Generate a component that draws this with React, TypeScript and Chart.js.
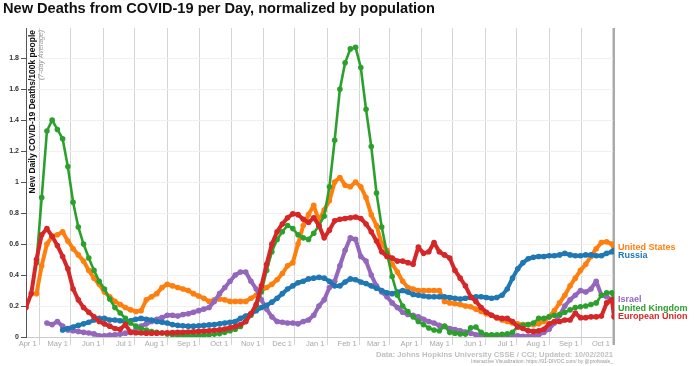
import React, { useEffect, useRef } from "react";
import { Chart, registerables } from "chart.js";

Chart.register(...registerables);

const FONT = '"Liberation Sans", Arial, Helvetica, sans-serif';

// Day offsets are relative to 2020-04-01. First sample 2020-03-19, last 2021-10-02.
const START_DAY = -13;
const STEP_DAYS = 5;
const LAST_GRID_DAY = 547;
const END_DAY = 549;

const tickDays = [0, 30, 61, 91, 122, 153, 183, 214, 244, 275, 306, 334, 365, 395, 426, 456, 487, 518, 548];
const tickLabels = [
  "Apr 1", "May 1", "Jun 1", "Jul 1", "Aug 1", "Sep 1", "Oct 1", "Nov 1", "Dec 1",
  "Jan 1", "Feb 1", "Mar 1", "Apr 1", "May 1", "Jun 1", "Jul 1", "Aug 1", "Sep 1", "Oct 1",
];
const yTicks = [0, 0.2, 0.4, 0.6, 0.8, 1, 1.2, 1.4, 1.6, 1.8];

const days: number[] = [];
for (let d = START_DAY; d <= LAST_GRID_DAY; d += STEP_DAYS) days.push(d);
days.push(END_DAY);

const unitedStates = [
  null, null, 0.28, 0.46, 0.6, 0.65, 0.66, 0.68, 0.62, 0.57,
  0.53, 0.49, 0.43, 0.38, 0.34, 0.29, 0.26, 0.23, 0.21, 0.19,
  0.175, 0.165, 0.17, 0.24, 0.26, 0.28, 0.32, 0.34, 0.33, 0.32,
  0.31, 0.3, 0.28, 0.265, 0.25, 0.23, 0.24, 0.245, 0.24, 0.23,
  0.23, 0.23, 0.23, 0.25, 0.27, 0.3, 0.32, 0.34, 0.37, 0.41,
  0.46, 0.48, 0.6, 0.72, 0.79, 0.85, 0.75, 0.82, 0.88, 1.0,
  1.03, 0.98, 0.97, 1.0, 0.97, 0.9, 0.79, 0.72, 0.6, 0.56,
  0.47, 0.42, 0.36, 0.32, 0.31, 0.3, 0.3, 0.3, 0.3, 0.3,
  0.23, 0.22, 0.215, 0.21, 0.2, 0.195, 0.18, 0.165, 0.15, 0.14,
  0.125, 0.11, 0.1, 0.09, 0.085, 0.08, 0.08, 0.08, 0.085, 0.1,
  0.13, 0.17, 0.22, 0.27, 0.33, 0.38, 0.43, 0.47, 0.52, 0.57,
  0.61, 0.615, 0.6,
  0.58,
];

const russia = [
  null, null, null, null, null, null, null, 0.045, 0.055, 0.065,
  0.075, 0.085, 0.095, 0.11, 0.12, 0.12, 0.11, 0.11, 0.105, 0.1,
  0.105, 0.115, 0.12, 0.115, 0.11, 0.1, 0.095, 0.09, 0.08, 0.075,
  0.072, 0.07, 0.07, 0.072, 0.075, 0.078, 0.08, 0.085, 0.09, 0.095,
  0.1, 0.12, 0.135, 0.15, 0.17, 0.19, 0.205, 0.225, 0.25, 0.28,
  0.31, 0.33, 0.35, 0.36, 0.375, 0.38, 0.385, 0.38, 0.36, 0.33,
  0.33, 0.355, 0.375, 0.37, 0.355, 0.345, 0.33, 0.315, 0.3, 0.285,
  0.28, 0.29, 0.3, 0.29, 0.275, 0.27, 0.265, 0.26, 0.26, 0.26,
  0.26, 0.255, 0.25, 0.245, 0.25, 0.255, 0.26, 0.26, 0.255, 0.25,
  0.255, 0.27, 0.31, 0.38, 0.44, 0.48, 0.505, 0.515, 0.52, 0.52,
  0.525, 0.525, 0.53, 0.54, 0.53, 0.525, 0.525, 0.53, 0.53, 0.525,
  0.525, 0.54, 0.55,
  0.56,
];

const israel = [
  null, null, null, null, 0.09, 0.08, 0.1, 0.07, 0.045, 0.04,
  0.036, 0.03, 0.026, 0.02, 0.008, 0.008, 0.012, 0.015, 0.018, 0.025,
  0.03, 0.045, 0.07, 0.085, 0.1, 0.115, 0.125, 0.14, 0.14, 0.135,
  0.145, 0.15, 0.16, 0.17, 0.18, 0.19, 0.23, 0.28, 0.32, 0.36,
  0.4, 0.42, 0.42, 0.36, 0.31, 0.24, 0.18, 0.13, 0.1, 0.095,
  0.09, 0.09, 0.085, 0.1, 0.11, 0.14, 0.2, 0.24, 0.32, 0.36,
  0.46, 0.56, 0.64, 0.63, 0.52, 0.49, 0.4, 0.33, 0.29, 0.26,
  0.22, 0.19, 0.16, 0.145, 0.14, 0.13, 0.115, 0.1, 0.09, 0.075,
  0.068, 0.055, 0.048, 0.04, 0.032, 0.025, 0.015, 0.008, 0.005, 0.005,
  0.005, 0.005, 0.005, 0.008, 0.008, 0.005, 0.005, 0.008, 0.015, 0.03,
  0.05, 0.09, 0.14, 0.2, 0.24, 0.27, 0.3, 0.29, 0.31, 0.36,
  0.27, 0.26, 0.24,
  0.24,
];

const unitedKingdom = [
  null, null, 0.48, 0.9, 1.33, 1.4, 1.34, 1.28, 1.1, 0.87,
  0.71, 0.6, 0.51, 0.43, 0.36, 0.31, 0.245, 0.19, 0.155, 0.12,
  0.09, 0.07, 0.055, 0.045, 0.035, 0.03, 0.026, 0.02, 0.015, 0.012,
  0.01, 0.008, 0.008, 0.01, 0.012, 0.015, 0.018, 0.022, 0.03, 0.04,
  0.05, 0.068, 0.1, 0.14, 0.2, 0.29, 0.43, 0.55, 0.63, 0.68,
  0.72, 0.7, 0.66, 0.64, 0.63, 0.67, 0.72, 0.78, 0.97, 1.27,
  1.6, 1.77, 1.86, 1.87, 1.74, 1.47, 1.23, 0.93, 0.71, 0.54,
  0.39, 0.27, 0.2, 0.165, 0.13, 0.1, 0.08, 0.058, 0.045, 0.04,
  0.07, 0.03, 0.025, 0.02, 0.018, 0.06, 0.065, 0.03, 0.015, 0.015,
  0.015, 0.018, 0.02, 0.03, 0.07, 0.075, 0.08, 0.09, 0.12, 0.12,
  0.13, 0.14, 0.145, 0.16, 0.175, 0.19, 0.195, 0.2, 0.21, 0.22,
  0.27, 0.285, 0.285,
  0.22,
];

const europeanUnion = [
  0.19, 0.28, 0.5, 0.66, 0.7, 0.65, 0.59, 0.52, 0.44, 0.31,
  0.24, 0.19, 0.16, 0.13, 0.1, 0.085, 0.07, 0.055, 0.05, 0.08,
  0.03, 0.027, 0.026, 0.025, 0.025, 0.025, 0.026, 0.027, 0.028, 0.03,
  0.03, 0.032, 0.034, 0.036, 0.038, 0.04, 0.043, 0.046, 0.052, 0.06,
  0.068, 0.08, 0.1, 0.15, 0.21, 0.33, 0.47, 0.6, 0.68, 0.73,
  0.77, 0.795, 0.79, 0.76, 0.74, 0.77, 0.72, 0.64, 0.69, 0.75,
  0.76, 0.765, 0.77, 0.775, 0.765, 0.73, 0.68, 0.62, 0.55, 0.52,
  0.51, 0.49, 0.49, 0.48, 0.47, 0.58, 0.54, 0.55, 0.61, 0.55,
  0.53, 0.51, 0.43, 0.38, 0.33, 0.26, 0.23, 0.19, 0.16, 0.14,
  0.125, 0.12, 0.12, 0.1, 0.065, 0.055, 0.04, 0.036, 0.04, 0.05,
  0.085, 0.1, 0.1, 0.11, 0.11, 0.155, 0.125, 0.125, 0.13, 0.13,
  0.135, 0.22, 0.24,
  0.13,
];

const seriesNames = ["European Union", "United Kingdom", "Russia", "Israel", "United States"];
const seriesValues = [europeanUnion, unitedKingdom, russia, israel, unitedStates];
const seriesColors = ["#d62728", "#2ca02c", "#1f77b4", "#9467bd", "#ff7f0e"];
const seriesLineWidths = [4, 2.6, 4, 4, 4];

const titleText = "New Deaths from COVID-19 per Day, normalized by population";
const yTitle = "New Daily COVID-19 Deaths/100k people";
const ySubtitle = "(7-day Average)";
const sourceText = "Data: Johns Hopkins University CSSE / CCI; Updated: 10/02/2021";
const creditText = "Interactive Visualization: https://91-DIVOC.com/ by @profwade_";

const decorPlugin = {
  id: "decor",
  beforeDatasetsDraw(chart: any) {
    const { ctx, chartArea } = chart;
    const x = chart.scales.x.getPixelForValue(END_DAY);
    ctx.save();
    ctx.strokeStyle = "#aaaaaa";
    ctx.lineWidth = 2;
    ctx.beginPath();
    ctx.moveTo(x, chartArea.top);
    ctx.lineTo(x, chartArea.bottom + 8);
    ctx.stroke();
    ctx.restore();
  },
  afterDraw(chart: any) {
    const { ctx, chartArea } = chart;
    ctx.save();
    // title
    ctx.fillStyle = "#111";
    ctx.font = `bold 14.6px ${FONT}`;
    ctx.textAlign = "left";
    ctx.textBaseline = "middle";
    ctx.fillText(titleText, 3, 9);

    // y axis title (inside plot)
    ctx.save();
    ctx.translate(32.5, 30);
    ctx.rotate(-Math.PI / 2);
    ctx.textAlign = "right";
    ctx.textBaseline = "middle";
    ctx.font = `bold 8.5px ${FONT}`;
    ctx.fillStyle = "#111";
    ctx.fillText(yTitle, 0, 0);
    ctx.restore();
    ctx.save();
    ctx.translate(41.5, 30);
    ctx.rotate(-Math.PI / 2);
    ctx.textAlign = "right";
    ctx.textBaseline = "middle";
    ctx.font = `italic 7px ${FONT}`;
    ctx.fillStyle = "#999";
    ctx.fillText(ySubtitle, 0, 0);
    ctx.restore();

    // source
    ctx.textAlign = "right";
    ctx.textBaseline = "middle";
    ctx.font = `bold 7.7px ${FONT}`;
    ctx.fillStyle = "#c0c0c0";
    ctx.fillText(sourceText, chartArea.right - 1, 355);
    ctx.font = `5px ${FONT}`;
    ctx.fillStyle = "#999";
    ctx.fillText(creditText, chartArea.right - 1, 362);

    // end labels
    const yScale = chart.scales.y;
    const items = seriesValues.map((vals, i) => ({
      name: seriesNames[i],
      color: seriesColors[i],
      y: yScale.getPixelForValue(vals[vals.length - 1] as number),
    }));
    items.sort((a, b) => a.y - b.y);
    const gap = 8.5;
    for (let i = 1; i < items.length; i++) {
      if (items[i].y - items[i - 1].y < gap) items[i].y = items[i - 1].y + gap;
    }
    ctx.font = `bold 9px ${FONT}`;
    ctx.textAlign = "left";
    for (const it of items) {
      ctx.fillStyle = it.color;
      ctx.fillText(it.name, chartArea.right + 4, it.y);
    }
    ctx.restore();
  },
};

export default function App() {
  const canvasRef = useRef<HTMLCanvasElement | null>(null);

  useEffect(() => {
    const canvas = canvasRef.current;
    if (!canvas) return;
    const datasets = seriesValues.map((vals, i) => ({
      label: seriesNames[i],
      data: days.map((d, j) => ({ x: d, y: vals[j] })),
      borderColor: seriesColors[i],
      backgroundColor: seriesColors[i],
      pointBackgroundColor: seriesColors[i],
      pointBorderWidth: 0,
      pointRadius: 2.8,
      borderWidth: seriesLineWidths[i],
      borderJoinStyle: "round",
      borderCapStyle: "round",
      tension: 0,
      spanGaps: false,
    }));
    const chart = new Chart(canvas, {
      type: "line",
      data: { datasets },
      options: {
        animation: false,
        responsive: false,
        devicePixelRatio: 1,
        layout: { padding: { left: 0, right: 86, top: 28, bottom: 0 } },
        plugins: { legend: { display: false }, title: { display: false }, tooltip: { enabled: false } },
        scales: {
          x: {
            type: "linear",
            min: START_DAY,
            max: END_DAY,
            afterBuildTicks: (scale: any) => {
              scale.ticks = tickDays.map((v) => ({ value: v }));
            },
            afterFit: (scale: any) => {
              scale.height = 29;
            },
            ticks: {
              autoSkip: false,
              maxRotation: 0,
              minRotation: 0,
              align: "end",
              labelOffset: -3,
              padding: -6,
              color: "#a8a8a8",
              font: { family: FONT, size: 7.5 },
              callback: (_v: any, i: number) => tickLabels[i],
            },
            grid: { color: "#d4d4d4", tickColor: "#d4d4d4", tickLength: 8, lineWidth: 1 },
            border: { display: true, color: "#cccccc" },
          },
          y: {
            type: "linear",
            min: 0,
            max: 1.995,
            afterBuildTicks: (scale: any) => {
              scale.ticks = yTicks.map((v) => ({ value: v }));
            },
            afterFit: (scale: any) => {
              scale.width = 26;
            },
            ticks: {
              color: "#333",
              padding: 2,
              font: { family: FONT, size: 7, weight: "bold" },
              callback: (v: any) => String(Number(Number(v).toFixed(1))),
            },
            grid: { color: "#f0f0f0", tickColor: "#555", tickLength: 5 },
            border: { display: true, color: "#555" },
          },
        },
      },
      plugins: [decorPlugin],
    } as any);
    return () => chart.destroy();
  }, []);

  return (
    <div style={{ position: "fixed", left: 0, top: 0, width: 700, height: 366, background: "#fff" }}>
      <canvas ref={canvasRef} width={700} height={366} style={{ display: "block" }} />
    </div>
  );
}
